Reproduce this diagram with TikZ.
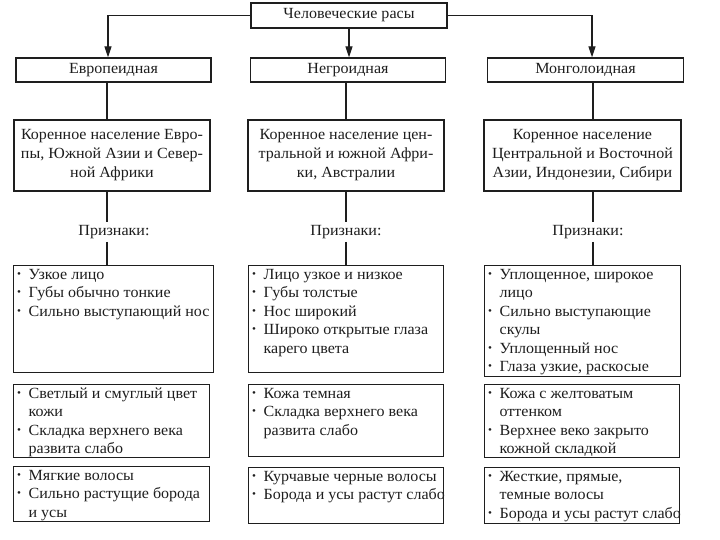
\documentclass[tikz,border=0pt]{standalone}
\usepackage{fontspec}
\setmainfont{Liberation Serif}[FakeStretch=1.035]
\usetikzlibrary{arrows.meta,calc}
\definecolor{ink}{RGB}{30,30,30}
\newcommand\fs{\fontsize{15.5}{18.4}\selectfont}
\newcommand\fsb{\fontsize{15.5}{19}\selectfont}
\newcommand\bl{\makebox[12pt][l]{\hspace{0.5pt}\raisebox{2pt}{\scalebox{0.7}{•}}}}
\newcommand\ind{\hspace*{12pt}}
\newcommand\lin[1]{\mbox{\strut #1}\par}
\newcommand\tbox[6]{%
  \pgfmathsetmacro\bw{#4-#2-6}\pgfmathsetmacro\bh{#5-#3-2}%
  \node[bx, anchor=north west, inner xsep=3pt, inner ysep=1pt] (#1) at (#2,#3)
    {\parbox[c][\bh pt][t]{\bw pt}{\fs\parskip=0pt #6}};}
\tikzset{
  bx/.style={draw=ink, line width=1.3pt, inner sep=0pt, text=ink, font=\fs},
  conn/.style={draw=ink, line width=1.3pt},
  arr/.style={conn, -{Triangle[length=11pt,width=7pt]}},
  lbl/.style={inner sep=3pt, text=ink, font=\fs}
}
\begin{document}
\begin{tikzpicture}[x=1pt,y=-1pt]
\useasboundingbox (0,0) rectangle (720,540);
\fill[white] (0,0) rectangle (720,540);

% column x positions for connectors
\coordinate (ex) at (107,0);
\coordinate (nx) at (346,0);
\coordinate (mx) at (593,0);
\coordinate (ea) at (108,0);
\coordinate (ma) at (592,0);

% top
\node[bx, minimum width=196pt, minimum height=25pt] (top) at (349,15.5) {Человеческие расы};

% level 2
\node[bx, minimum width=195pt, minimum height=24pt] (e2) at (113.5,70) {Европеидная};
\node[bx, minimum width=195pt, minimum height=24pt] (n2) at (348,70) {Негроидная};
\node[bx, minimum width=196pt, minimum height=24pt] (m2) at (585.5,70) {Монголоидная};

% level 3
\node[bx, font=\fsb, align=center, minimum width=196pt, minimum height=71pt] (e3) at (112,155.5)
  {Коренное население Евро-\\пы, Южной Азии и Север-\\ной Африки};
\node[bx, font=\fsb, align=center, minimum width=196pt, minimum height=71pt] (n3) at (346,155.5)
  {Коренное население цен-\\тральной и южной Афри-\\ки, Австралии};
\node[bx, font=\fsb, align=center, minimum width=197pt, minimum height=71pt] (m3) at (582.5,155.5)
  {Коренное население\\Центральной и Восточной\\Азии, Индонезии, Сибири};

% Признаки
\node[lbl] (ep) at (114,232) {Признаки:};
\node[lbl] (np) at (346,232) {Признаки:};
\node[lbl] (mp) at (588,232) {Признаки:};

% feature boxes
\tbox{ef}{13}{265}{213}{372}{%
  \lin{\bl Узкое лицо}
  \lin{\bl Губы обычно тонкие}
  \lin{\bl Сильно выступающий нос}}
\tbox{nf}{248}{265}{443}{372}{%
  \lin{\bl Лицо узкое и низкое}
  \lin{\bl Губы толстые}
  \lin{\bl Нос широкий}
  \lin{\bl Широко открытые глаза}
  \lin{\ind карего цвета}}
\tbox{mf}{484}{265}{680}{376}{%
  \lin{\bl Уплощенное, широкое}
  \lin{\ind лицо}
  \lin{\bl Сильно выступающие}
  \lin{\ind скулы}
  \lin{\bl Уплощенный нос}
  \lin{\bl Глаза узкие, раскосые}}

% skin boxes
\tbox{es}{13}{384}{209}{457}{%
  \lin{\bl Светлый и смуглый цвет}
  \lin{\ind кожи}
  \lin{\bl Складка верхнего века}
  \lin{\ind развита слабо}}
\tbox{ns}{248}{384}{443}{456}{%
  \lin{\bl Кожа темная}
  \lin{\bl Складка верхнего века}
  \lin{\ind развита слабо}}
\tbox{ms}{484}{384}{679}{457}{%
  \lin{\bl Кожа с желтоватым}
  \lin{\ind оттенком}
  \lin{\bl Верхнее веко закрыто}
  \lin{\ind кожной складкой}}

% hair boxes
\tbox{eh}{13}{466}{209}{521}{%
  \lin{\bl Мягкие волосы}
  \lin{\bl Сильно растущие борода}
  \lin{\ind и усы}}
\tbox{nh}{248}{467}{443}{523}{%
  \lin{\bl Курчавые черные волосы}
  \lin{\bl Борода и усы растут слабо}}
\tbox{mh}{484}{467}{679}{523}{%
  \lin{\bl Жесткие, прямые,}
  \lin{\ind темные волосы}
  \lin{\bl Борода и усы растут слабо}}

% arrows from top
\draw[arr] (top.west) -| (e2.north -| ea);
\draw[arr] (top.south) -- (n2.north -| top.south);
\draw[arr] (top.east) -| (m2.north -| ma);

% vertical connectors
\foreach \c/\x in {e/ex, n/nx, m/mx}{
  \draw[conn] (\c2.south -| \x) -- (\c3.north -| \x);
  \draw[conn] (\c3.south -| \x) -- (\c p.north -| \x);
  \draw[conn] (\c p.south -| \x) -- (\c f.north -| \x);
}
\end{tikzpicture}
\end{document}
